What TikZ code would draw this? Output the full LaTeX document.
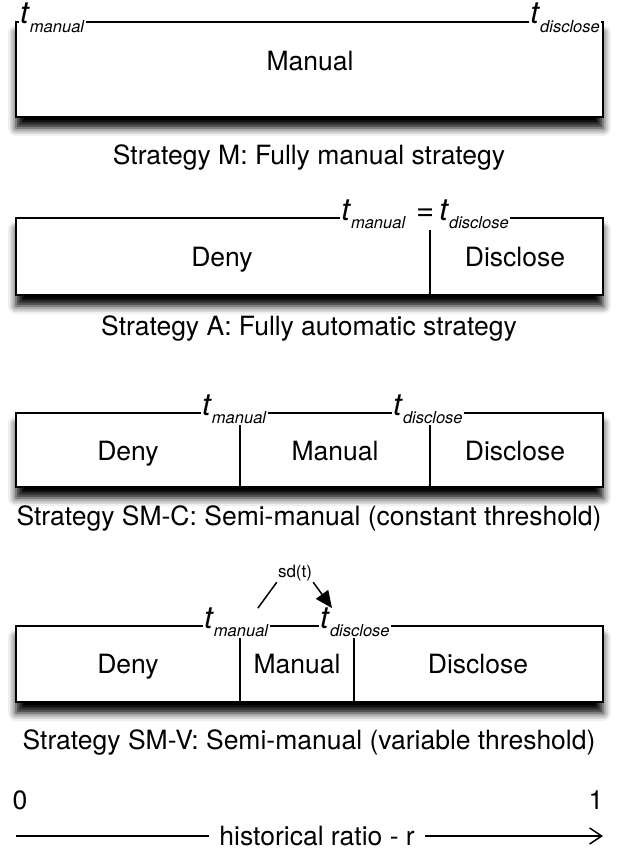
\documentclass[tikz,border=0pt]{standalone}
\usepackage{fontspec}
\setmainfont{TeX Gyre Heros}
\usetikzlibrary{positioning,arrows.meta,calc,shadows.blur}
\newcommand{\tsub}[1]{\textit{t}\raisebox{-0.28em}{\fontsize{16.5}{16}\selectfont\textit{#1}}}

\begin{document}
\begin{tikzpicture}[
  x=1pt, y=-1pt,
  >=Latex,
  stratbox/.style={draw, line width=2.6pt, fill=white, minimum width=587pt, inner sep=0pt,
    blur shadow={shadow xshift=0pt, shadow yshift=-11pt, shadow blur radius=8pt, shadow opacity=100}},
  divline/.style={line width=1.8pt},
  part/.style={font=\fontsize{26.5}{30}\selectfont, anchor=base},
  capt/.style={font=\fontsize{26.5}{30}\selectfont, anchor=base},
  tlab/.style={fill=white, inner sep=1pt, font=\fontsize{31}{32}\selectfont},
  small/.style={font=\fontsize{17}{18}\selectfont, inner sep=1pt}
]
\useasboundingbox (0,0) rectangle (618,856);

% Strategy M
\node[stratbox, minimum height=95pt] (boxM) at (309.5,69.5) {};
\node[part] (manM) at (310,71) {Manual};
\node[tlab, anchor=base west] (tmanM) at (19,24) {\tsub{manual}};
\node[tlab, anchor=base east] (tdisM) at (601,24) {\tsub{disclose}};
\node[capt] (capM) at (309,164) {Strategy M: Fully manual strategy};

% Strategy A
\node[stratbox, minimum height=77pt] (boxA) at (309.5,256.5) {};
\draw[divline] (430,218) -- (430,295);
\node[part] (denyA) at (222,266) {Deny};
\node[part] (discA) at (515,266) {Disclose};
\node[tlab, anchor=base] (tA) at (425,220) {\tsub{manual}\,\,=\,\tsub{disclose}};
\node[capt] (capA) at (309,335) {Strategy A: Fully automatic strategy};

% Strategy SM-C
\node[stratbox, minimum height=74pt] (boxC) at (309.5,450) {};
\draw[divline] (240,413) -- (240,487);
\draw[divline] (430,413) -- (430,487);
\node[part] (denyC) at (128,460) {Deny};
\node[part] (manC) at (335,460) {Manual};
\node[part] (discC) at (515,460) {Disclose};
\node[tlab, anchor=base west] (tmanC) at (201,415) {\tsub{manual}};
\node[tlab, anchor=base west] (tdisC) at (392,415) {\tsub{disclose}};
\node[capt] (capC) at (309,525) {Strategy SM-C: Semi-manual (constant threshold)};

% Strategy SM-V
\node[stratbox, minimum height=76pt] (boxV) at (309.5,664) {};
\draw[divline] (240,626) -- (240,702);
\draw[divline] (354,626) -- (354,702);
\node[part] (denyV) at (128,673) {Deny};
\node[part] (manV) at (297,673) {Manual};
\node[part] (discV) at (478,673) {Disclose};
\node[tlab, anchor=base west] (tmanV) at (203,628) {\tsub{manual}};
\node[tlab, anchor=base west] (tdisV) at (319,628) {\tsub{disclose}};
\node[small] (sdt) at (295,573) {sd(t)};
\draw[line width=1.5pt] (sdt.south west) -- ($(tmanV.north east)+(-12,2)$);
\draw[line width=1.5pt, -{Triangle[length=17pt,width=15pt]}] (sdt.south east) -- ($(tdisV.north west)+(13,2)$);
\node[capt] (capV) at (309,749) {Strategy SM-V: Semi-manual (variable threshold)};

% axis
\node[capt] (zero) at (20,809) {0};
\node[capt] (one) at (596,809) {1};
\coordinate (axL) at (16,836);
\coordinate (axR) at (603,836);
\draw[line width=1.5pt, -{Straight Barb[length=12pt,width=16pt]}] (axL) -- node[font=\fontsize{26.5}{30}\selectfont, fill=white, inner xsep=10pt, pos=0.513] (axlab) {historical ratio - r} (axR);

\end{tikzpicture}
\end{document}
